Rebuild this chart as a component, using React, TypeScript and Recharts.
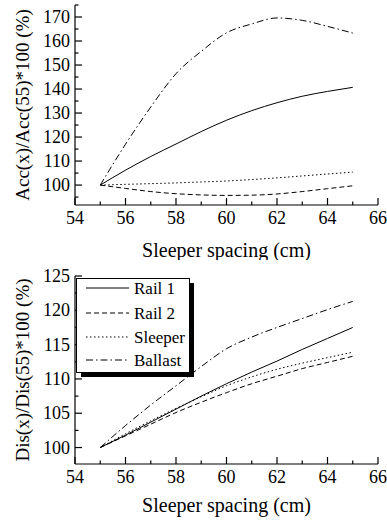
import { LineChart, Line, XAxis, YAxis, Legend, Label } from 'recharts'

const spacing = [55, 56, 57, 58, 59, 60, 61, 62, 63, 64, 65]

// acceleration ratio (%)
const accRail1 = [100, 106.2, 111.9, 117.1, 122.3, 127, 131, 134.3, 137, 139, 140.7]
const accRail2 = [100, 98.6, 97.3, 96.4, 95.9, 95.7, 95.8, 96.3, 97.3, 98.5, 99.7]
const accSleeper = [100, 100.3, 100.6, 100.9, 101.3, 101.7, 102.3, 103, 103.8, 104.6, 105.4]
const accBallast = [100, 117, 132.5, 146.4, 155.7, 163.4, 167.1, 169.6, 168.6, 166.1, 163.3]

// displacement ratio (%)
const disRail1 = [100, 101.8, 103.7, 105.6, 107.5, 109.3, 111, 112.6, 114.3, 115.9, 117.5]
const disRail2 = [100, 101.7, 103.4, 105.1, 106.6, 108, 109.3, 110.4, 111.5, 112.4, 113.3]
const disSleeper = [100, 102, 103.9, 105.7, 107.4, 109, 110.3, 111.4, 112.3, 113.1, 113.9]
const disBallast = [100, 103.2, 106.2, 109, 111.8, 114.4, 116.1, 117.5, 118.8, 120.1, 121.3]

const xTicks = [54, 55, 56, 57, 58, 59, 60, 61, 62, 63, 64, 65, 66]
const accTicks = [95, 100, 105, 110, 115, 120, 125, 130, 135, 140, 145, 150, 155, 160, 165, 170, 175]
const disTicks = [100, 102.5, 105, 107.5, 110, 112.5, 115, 117.5, 120, 122.5, 125]

const seriesNames = ['Rail 1', 'Rail 2', 'Sleeper', 'Ballast']
const dashes = ['', '5 3', '1.5 2.5', '7 3 1.5 3']

const FONT = "'Liberation Serif', 'Times New Roman', 'DejaVu Serif', serif"
const txt = (size: number) => ({ fontSize: size, fontFamily: FONT, fill: '#000' })

const accRows = spacing.map((x, i) => ({ x, s0: accRail1[i], s1: accRail2[i], s2: accSleeper[i], s3: accBallast[i] }))
const disRows = spacing.map((x, i) => ({ x, s0: disRail1[i], s1: disRail2[i], s2: disSleeper[i], s3: disBallast[i] }))

const isMajor = (v: number, step: number) => Math.abs(v / step - Math.round(v / step)) < 1e-6

function makeTick(side: 'bottom' | 'top' | 'left' | 'right', step: number) {
  return (props: any) => {
    const { x, y, payload } = props
    const v = payload.value
    const major = isMajor(v, step)
    const len = major ? 7 : 3.5
    let line
    if (side === 'bottom') line = <line x1={x} y1={y} x2={x} y2={y - len} stroke="#000" strokeWidth={1.2} />
    else if (side === 'top') line = <line x1={x} y1={y} x2={x} y2={y + len} stroke="#000" strokeWidth={1.2} />
    else if (side === 'left') line = <line x1={x} y1={y} x2={x + len} y2={y} stroke="#000" strokeWidth={1.2} />
    else line = <line x1={x} y1={y} x2={x - len} y2={y} stroke="#000" strokeWidth={1.2} />
    let text = null
    if (major && side === 'bottom')
      text = <text x={x} y={y + 19} textAnchor="middle" style={txt(18)}>{v}</text>
    if (major && side === 'left')
      text = <text x={x - 5} y={y + 6} textAnchor="end" style={txt(18)}>{v}</text>
    return <g>{line}{text}</g>
  }
}

function LegendBox() {
  const rows = [10, 35, 59, 82]
  return (
    <svg width={120} height={102} style={{ display: 'block' }}>
      <rect x={5} y={5} width={113} height={94} fill="#000" />
      <rect x={0.5} y={0.5} width={113} height={94} fill="#fff" stroke="#000" strokeWidth={1} />
      {seriesNames.map((n, i) => (
        <g key={n}>
          <line x1={10} y1={rows[i]} x2={53} y2={rows[i]} stroke="#000" strokeWidth={1} strokeDasharray={dashes[i] || undefined} />
          <text x={58} y={rows[i] + 6} style={txt(17)}>{n}</text>
        </g>
      ))}
    </svg>
  )
}

function Panel({ rows, domain, yTicks, yStep, yLabel, width, height, margin, xLabelOffset, legend }: any) {
  return (
    <LineChart width={width} height={height} data={rows} margin={margin} style={{ fontFamily: FONT }}>
      <XAxis xAxisId="b" dataKey="x" type="number" domain={[54, 66]} ticks={xTicks} interval={0} allowDataOverflow
        height={55} tickSize={0} tickMargin={0} tickLine={false} axisLine={{ stroke: '#000', strokeWidth: 1.2 }}
        tick={makeTick('bottom', 2)}>
        <Label value="Sleeper spacing (cm)" position="insideBottom" offset={xLabelOffset} style={txt(20)} />
      </XAxis>
      <XAxis xAxisId="t" orientation="top" dataKey="x" type="number" domain={[54, 66]} ticks={xTicks} interval={0} allowDataOverflow
        height={0} tickSize={0} tickMargin={0} tickLine={false} axisLine={{ stroke: '#000', strokeWidth: 1.2 }}
        tick={makeTick('top', 2)} />
      <YAxis yAxisId="l" type="number" domain={domain} ticks={yTicks} interval={0} allowDataOverflow
        width={75} tickSize={0} tickMargin={0} tickLine={false} axisLine={{ stroke: '#000', strokeWidth: 1.2 }}
        tick={makeTick('left', yStep)}>
        <Label value={yLabel} angle={-90} position="insideLeft" offset={22}
          style={{ ...txt(19), textAnchor: 'middle' }} />
      </YAxis>
      <YAxis yAxisId="r" orientation="right" type="number" domain={domain} ticks={yTicks} interval={0} allowDataOverflow
        width={0} tickSize={0} tickMargin={0} tickLine={false} axisLine={{ stroke: '#000', strokeWidth: 1.2 }}
        tick={makeTick('right', yStep)} />
      {legend && (
        <Legend layout="vertical" align="center" verticalAlign="middle"
          wrapperStyle={{ left: 76, top: 18, width: 120, height: 102 }} content={() => <LegendBox />} />
      )}
      {[0, 1, 2, 3].map((i) => (
        <Line key={i} xAxisId="b" yAxisId="l" dataKey={`s${i}`} name={seriesNames[i]} type="monotone"
          stroke="#000" strokeWidth={1} strokeDasharray={dashes[i] || undefined} dot={false} isAnimationActive={false} />
      ))}
    </LineChart>
  )
}

export default function App() {
  return (
    <div style={{ position: 'absolute', left: 0, top: 0, width: 387, height: 526, background: '#fff', fontFamily: FONT }}>
      <Panel rows={accRows} domain={[91.7, 175]} yTicks={accTicks} yStep={10} yLabel="Acc(x)/Acc(55)*100 (%)"
        width={387} height={260} margin={{ top: 5, right: 9, left: 0, bottom: 0 }} xLabelOffset={3} />
      <Panel rows={disRows} domain={[97.6, 125]} yTicks={disTicks} yStep={5} yLabel="Dis(x)/Dis(55)*100 (%)"
        width={387} height={266} margin={{ top: 16, right: 9, left: 0, bottom: 7 }} xLabelOffset={7} legend />
    </div>
  )
}
